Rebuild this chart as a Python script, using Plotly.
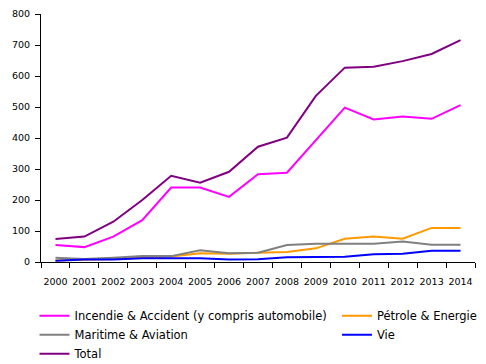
import plotly.graph_objects as go

years = [str(y) for y in range(2000, 2015)]
incendie = [55, 48, 82, 135, 240, 240, 210, 283, 288, 394, 498, 460, 469, 462, 506]
petrole = [5, 7, 10, 14, 18, 28, 27, 30, 32, 44, 75, 82, 75, 110, 110]
maritime = [14, 10, 14, 19, 19, 38, 28, 30, 55, 59, 59, 59, 66, 56, 56]
vie = [4, 8, 8, 12, 12, 12, 8, 9, 15, 17, 17, 25, 27, 36, 36]
total = [74, 82, 130, 200, 278, 256, 291, 372, 401, 536, 627, 630, 648, 671, 716]

series = [
    ("Incendie & Accident (y compris automobile)", incendie, "#FF00FF", "legend"),
    ("Pétrole & Energie", petrole, "#FF9900", "legend2"),
    ("Maritime & Aviation", maritime, "#808080", "legend"),
    ("Vie", vie, "#0000FF", "legend2"),
    ("Total", total, "#800080", "legend"),
]

fig = go.Figure()
for name, vals, col, leg in series:
    fig.add_trace(go.Scatter(x=years, y=vals, name=name, mode="lines",
                             line=dict(color=col, width=2), legend=leg))

font = "DejaVu Sans, sans-serif"
legfont = dict(family=font, size=11.5, color="black")
fig.update_layout(
    width=486, height=364,
    margin=dict(l=41, r=11, t=14, b=102, autoexpand=False),
    paper_bgcolor="white", plot_bgcolor="white",
    font=dict(family=font, size=10, color="black"),
    xaxis=dict(type="category", range=[-0.5, 14.5], tickson="boundaries",
               ticks="outside", ticklen=5, tickcolor="black", tickangle=0,
               showline=True, linecolor="black", linewidth=1,
               showgrid=False, zeroline=False, tickfont=dict(size=9.5),
               ticklabelstandoff=11),
    yaxis=dict(range=[0, 800], dtick=100, ticks="outside", ticklen=5,
               tickcolor="black", showline=True, linecolor="black",
               linewidth=1, showgrid=False, zeroline=False,
               tickfont=dict(size=9.5), ticklabelstandoff=3),
    legend=dict(orientation="v", x=-0.015, xanchor="left", y=-0.158, yanchor="top",
                itemwidth=30, font=legfont, tracegroupgap=0,
                bgcolor="rgba(0,0,0,0)"),
    legend2=dict(orientation="v", x=0.682, xanchor="left", y=-0.158, yanchor="top",
                 itemwidth=30, font=legfont, tracegroupgap=0,
                 bgcolor="rgba(0,0,0,0)"),
    showlegend=True,
)
fig.write_html("out.html", config={"displayModeBar": False},
               post_script="document.body.style.margin='0';document.body.style.overflow='hidden';")
